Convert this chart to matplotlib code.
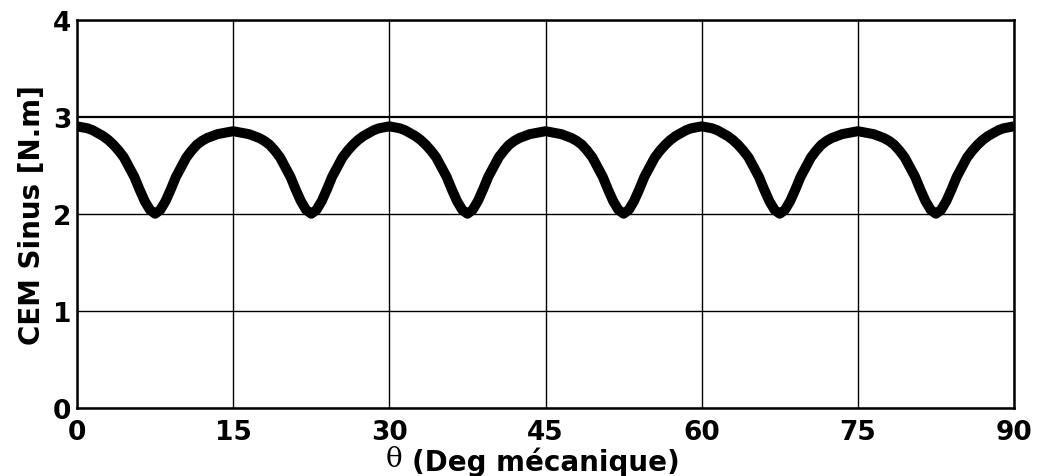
import numpy as np
import matplotlib
matplotlib.use("Agg")
import matplotlib.pyplot as plt

# Electromagnetic torque of the sine-fed machine over 90 mechanical degrees,
# sampled every 0.5 degree.
theta_deg = np.linspace(0, 90, 181)

torque_0_15 = [2.90, 2.89, 2.88, 2.86, 2.83, 2.80, 2.76, 2.71, 2.65, 2.58, 2.48, 2.38,
               2.25, 2.13, 2.04, 2.00, 2.04, 2.13, 2.25, 2.38, 2.48, 2.58, 2.65, 2.71,
               2.75, 2.78, 2.80, 2.82, 2.83, 2.84, 2.85]
torque_15_30 = [2.84, 2.83, 2.82, 2.80, 2.78, 2.75, 2.71, 2.65, 2.58, 2.48, 2.38, 2.25,
                2.13, 2.04, 2.00, 2.04, 2.13, 2.25, 2.38, 2.48, 2.58, 2.65, 2.71, 2.76,
                2.80, 2.83, 2.86, 2.88, 2.89, 2.90]
torque_30_45 = [2.89, 2.88, 2.86, 2.83, 2.80, 2.76, 2.71, 2.65, 2.58, 2.48, 2.38, 2.25,
                2.13, 2.04, 2.00, 2.04, 2.13, 2.25, 2.38, 2.48, 2.58, 2.65, 2.71, 2.75,
                2.78, 2.80, 2.82, 2.83, 2.84, 2.85]
torque_45_60 = [2.84, 2.83, 2.82, 2.80, 2.78, 2.75, 2.71, 2.65, 2.58, 2.48, 2.38, 2.25,
                2.13, 2.04, 2.00, 2.04, 2.13, 2.25, 2.38, 2.48, 2.58, 2.65, 2.71, 2.76,
                2.80, 2.83, 2.86, 2.88, 2.89, 2.90]
torque_60_75 = [2.89, 2.88, 2.86, 2.83, 2.80, 2.76, 2.71, 2.65, 2.58, 2.48, 2.38, 2.25,
                2.13, 2.04, 2.00, 2.04, 2.13, 2.25, 2.38, 2.48, 2.58, 2.65, 2.71, 2.75,
                2.78, 2.80, 2.82, 2.83, 2.84, 2.85]
torque_75_90 = [2.84, 2.83, 2.82, 2.80, 2.78, 2.75, 2.71, 2.65, 2.58, 2.48, 2.38, 2.25,
                2.13, 2.04, 2.00, 2.04, 2.13, 2.25, 2.38, 2.48, 2.58, 2.65, 2.71, 2.76,
                2.80, 2.83, 2.86, 2.88, 2.89, 2.90]
torque = np.array(torque_0_15 + torque_15_30 + torque_30_45
                  + torque_45_60 + torque_60_75 + torque_75_90)

x_ticks = [0, 15, 30, 45, 60, 75, 90]
y_ticks = [0, 1, 2, 3, 4]
x_label = "(Deg mécanique)"
y_label = "CEM Sinus [N.m]"

# Heavy sans-serif for all labels
heavy = ["DejaVu Sans"]
tick_font = dict(family=heavy, weight="bold", size=19)
label_font = dict(family=heavy, weight="bold", size=20)

fig = plt.figure(figsize=(10.37, 4.77), dpi=100)
ax = fig.add_axes([0.0743, 0.1426, 0.9035, 0.8144])

ax.plot(theta_deg, torque, color="black", linewidth=7.2,
        solid_capstyle="butt", solid_joinstyle="round")

ax.set_xlim(0, 90)
ax.set_ylim(0, 4)
ax.set_xticks(x_ticks)
ax.set_yticks(y_ticks)
ax.set_xticklabels([str(v) for v in x_ticks], fontdict=tick_font)
ax.set_yticklabels([str(v) for v in y_ticks], fontdict=tick_font)
ax.tick_params(axis="both", length=0)
ax.tick_params(axis="x", pad=8)
ax.tick_params(axis="y", pad=4)
ax.grid(True, color="black", linewidth=1.0)
ax.set_axisbelow(True)
# the 3 N.m reference line is drawn a little heavier
ax.yaxis.get_gridlines()[3].set_linewidth(1.6)
for sp in ax.spines.values():
    sp.set_linewidth(1.8)
    sp.set_color("black")

ax.set_ylabel(y_label, fontdict=label_font, labelpad=5)
xl = ax.set_xlabel(x_label, fontdict=label_font, labelpad=1)

# Upright theta in a plain serif face, just left of the axis title
fig.canvas.draw()
bb = xl.get_window_extent()
fig.text(bb.x0 - 9, bb.y0 + 4, "θ", fontsize=20, family="DejaVu Serif",
         ha="right", va="bottom", transform=None)

fig.savefig("out.png", dpi=100)
